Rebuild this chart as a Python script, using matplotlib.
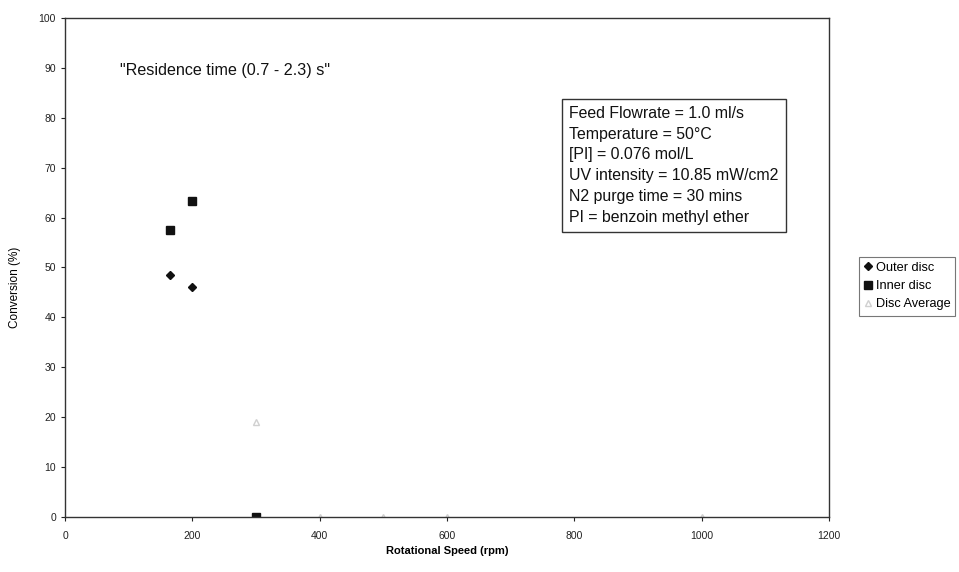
import matplotlib
matplotlib.use("Agg")
import matplotlib.pyplot as plt

# Data
outer_x = [165, 200, 300]
outer_y = [48.5, 46.0, 0.0]
inner_x = [165, 200, 300]
inner_y = [57.5, 63.3, 0.0]
avg_x = [300, 400, 500, 600, 1000]
avg_y = [19.0, 0.0, 0.0, 0.0, 0.0]

x_ticks = [0, 200, 400, 600, 800, 1000, 1200]
y_ticks = [0, 10, 20, 30, 40, 50, 60, 70, 80, 90, 100]

plt.rcParams['font.family'] = ['Liberation Sans', 'DejaVu Sans']

fig = plt.figure(figsize=(9.59, 5.72), dpi=100)
ax = fig.add_axes([0.0678, 0.0962, 0.7966, 0.8723])

ax.plot(outer_x, outer_y, linestyle='none', marker='D', markersize=4,
        color='#111111', label='Outer disc')
ax.plot(inner_x, inner_y, linestyle='none', marker='s', markersize=5.5,
        color='#111111', label='Inner disc')
ax.plot(avg_x, avg_y, linestyle='none', marker='^', markersize=4,
        color='#d0d0d0', markerfacecolor='none', label='Disc Average')

ax.set_xlim(0, 1200)
ax.set_ylim(0, 100)
ax.set_xticks(x_ticks)
ax.set_yticks(y_ticks)
ax.tick_params(axis='both', labelsize=7.5, length=3, width=0.8, direction='out',
               colors='#222222')
ax.tick_params(axis='x', pad=7)
for s in ax.spines.values():
    s.set_color('#333333')
    s.set_linewidth(1.0)

ax.set_xlabel('Rotational Speed (rpm)', fontsize=8, fontweight='bold', labelpad=4)
ax.set_ylabel('Conversion (%)', fontsize=8.5)
ax.yaxis.set_label_coords(-0.058, 0.46)

ax.text(86, 89.5, '"Residence time (0.7 - 2.3) s"', fontsize=11.6,
        color='#111111', va='center', ha='left')

box_txt = ('Feed Flowrate = 1.0 ml/s\nTemperature = 50\u00b0C\n[PI] = 0.076 mol/L\n'
           'UV intensity = 10.85 mW/cm2\nN2 purge time = 30 mins\nPI = benzoin methyl ether')
ax.text(792, 82.4, box_txt, fontsize=11.4, color='#111111', va='top', ha='left',
        linespacing=1.48,
        bbox=dict(boxstyle='square,pad=0.45', facecolor='white',
                  edgecolor='#333333', linewidth=1.0))

leg = fig.legend(loc='center left', bbox_to_anchor=(0.889, 0.5), fontsize=9.2,
                 frameon=True, fancybox=False, edgecolor='#555555',
                 handlelength=0.6, handletextpad=0.3, borderpad=0.4,
                 labelspacing=0.5)
leg.get_frame().set_linewidth(0.8)

fig.savefig('out.png', dpi=100)
